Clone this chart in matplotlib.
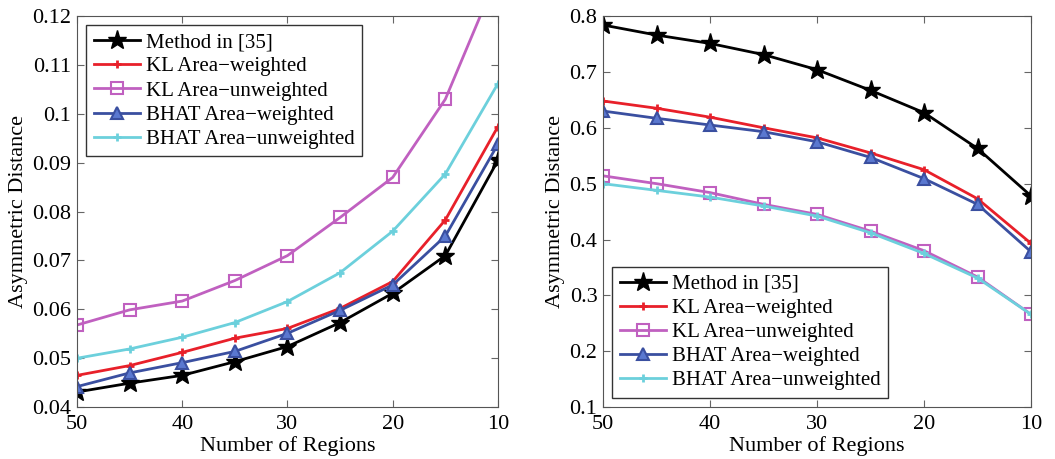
import numpy as np
import matplotlib.pyplot as plt

plt.rcParams['font.family'] = ['Liberation Serif', 'DejaVu Serif']
plt.rc('font', size=15)
plt.rc('lines', lw=2)

regions = [50, 45, 40, 35, 30, 25, 20, 15, 10]
labels = ["Method in [35]", "KL Area\u2212weighted", "KL Area\u2212unweighted",
          "BHAT Area\u2212weighted", "BHAT Area\u2212unweighted"]

# left panel
left_method = [0.0431, 0.0449, 0.0465, 0.0493, 0.0524, 0.0573, 0.0633, 0.0710, 0.0905]
left_kl_w = [0.0465, 0.0485, 0.0512, 0.0541, 0.0561, 0.0602, 0.0657, 0.0783, 0.0974]
left_kl_u = [0.0568, 0.0599, 0.0617, 0.0659, 0.0710, 0.0788, 0.0870, 0.1030, 0.1286]
left_bh_w = [0.0442, 0.0470, 0.0491, 0.0514, 0.0551, 0.0598, 0.0650, 0.0750, 0.0938]
left_bh_u = [0.0500, 0.0519, 0.0543, 0.0573, 0.0616, 0.0675, 0.0760, 0.0877, 0.1062]

# right panel
right_method = [0.784, 0.766, 0.751, 0.731, 0.704, 0.667, 0.627, 0.563, 0.478]
right_kl_w = [0.648, 0.635, 0.619, 0.600, 0.582, 0.555, 0.525, 0.473, 0.393]
right_kl_u = [0.514, 0.500, 0.484, 0.463, 0.445, 0.415, 0.380, 0.333, 0.266]
right_bh_w = [0.630, 0.617, 0.605, 0.593, 0.575, 0.547, 0.509, 0.463, 0.378]
right_bh_u = [0.500, 0.488, 0.476, 0.460, 0.442, 0.412, 0.375, 0.331, 0.266]

styles = [
    dict(color='black', marker='*', markersize=14),
    dict(color='#e8202a', marker='+', markersize=6, markeredgewidth=2),
    dict(color='#c060c0', marker='s', markersize=8, markerfacecolor='none', markeredgewidth=1.5),
    dict(color='#3a4fa0', marker='^', markersize=9, markerfacecolor='#5a78d0', markeredgewidth=1.5),
    dict(color='#6cd0dc', marker='+', markersize=6, markeredgewidth=2),
]

fig = plt.figure(figsize=(10.55, 4.59), dpi=100)
ax1 = fig.add_axes([0.073, 0.113, 0.399, 0.852])
ax2 = fig.add_axes([0.5716, 0.113, 0.4057, 0.852])

for ax, data, ylim, yticks, loc in [
    (ax1, [left_method, left_kl_w, left_kl_u, left_bh_w, left_bh_u], (0.04, 0.12),
     np.arange(0.04, 0.121, 0.01), 'upper left'),
    (ax2, [right_method, right_kl_w, right_kl_u, right_bh_w, right_bh_u], (0.1, 0.8),
     np.arange(0.1, 0.81, 0.1), 'lower left'),
]:
    for y, st, lab in zip(data, styles, labels):
        ax.plot(regions, y, label=lab, **st)
    ax.set_xlim(50, 10)
    ax.set_ylim(*ylim)
    ax.set_xticks([50, 40, 30, 20, 10])
    ax.set_yticks(yticks)
    ax.set_yticklabels(["%g" % round(t, 2) for t in yticks])
    ax.tick_params(direction='in', length=5, top=True, right=True, labelsize=16,
                   color='#666666')
    ax.tick_params(axis='x', pad=6)
    ax.tick_params(axis='y', pad=4)
    ax.set_xlabel("Number of Regions", fontsize=16, labelpad=1)
    ax.set_ylabel("Asymmetric Distance", fontsize=16, labelpad=3)
    for s in ax.spines.values():
        s.set_color('#555555')
    leg = ax.legend(loc=loc, fancybox=False, framealpha=1,
                    edgecolor='#333333', fontsize=15, handlelength=2.2,
                    handletextpad=0.3, labelspacing=0.22, borderaxespad=0.45,
                    borderpad=0.35)
    leg.get_frame().set_linewidth(1)

fig.savefig("out.png", dpi=100)
